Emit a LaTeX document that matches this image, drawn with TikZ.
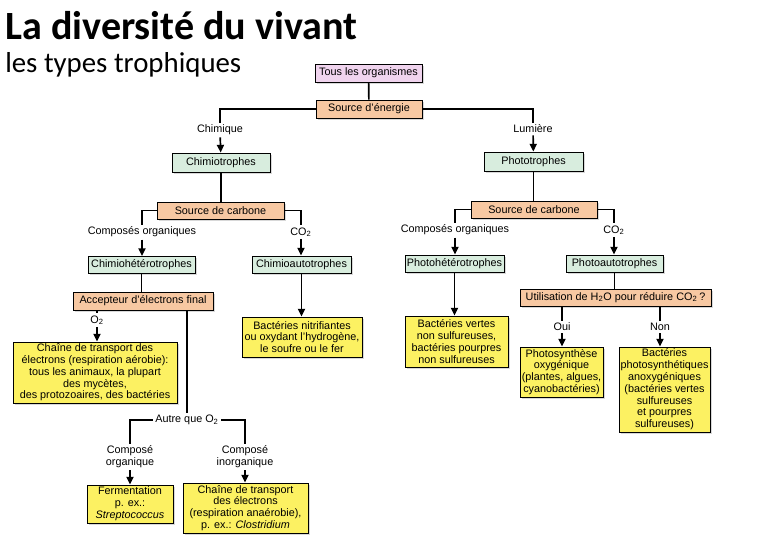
\documentclass[tikz,border=0pt]{standalone}
\usepackage{fontspec}
\setmainfont{Liberation Sans}
\newfontfamily\titlefont{Carlito}
\usetikzlibrary{arrows.meta, shadows}

\definecolor{orgpink}{RGB}{240,212,238}
\definecolor{srcpeach}{RGB}{247,200,162}
\definecolor{typgreen}{RGB}{216,237,222}
\definecolor{resyellow}{RGB}{252,241,98}

\begin{document}
\begin{tikzpicture}[x=0.025cm, y=-0.025cm, >={Triangle[width=5pt,length=5.5pt]}]
\tikzset{box/.style={draw, rectangle, line width=0.6pt, inner sep=1pt, align=center, font=\fontsize{7.7}{8.4}\selectfont, drop shadow={shadow xshift=1.3pt, shadow yshift=-1.3pt, fill=black!30}},
  orgbox/.style={box, fill=orgpink}, srcbox/.style={box, fill=srcpeach},
  typbox/.style={box, fill=typgreen}, resbox/.style={box, fill=resyellow},
  lbl/.style={inner sep=1.5pt, align=center, font=\fontsize{7.7}{8.4}\selectfont},
  ln/.style={line width=1.2pt}}
\useasboundingbox (0,0) rectangle (780,540);

% titre
\node[anchor=base west, inner sep=0, font=\titlefont\bfseries\fontsize{28.5}{30}\selectfont] (titre) at (5,39) {La diversité du vivant};
\node[anchor=base west, inner sep=0, font=\titlefont\fontsize{20.5}{22}\selectfont] (stitre) at (5,72) {les types trophiques};

% haut
\node[orgbox, minimum width=2.675cm, minimum height=0.45cm] (tous) at (368.5,73) {Tous les organismes};
\node[srcbox, minimum width=2.65cm, minimum height=0.45cm] (nrg) at (369,109) {Source d'énergie};
\node[lbl] (chq) at (220,130) {Chimique};
\node[lbl] (lum) at (533,129) {Lumière};
\node[typbox, minimum width=2.45cm, minimum height=0.475cm] (chimio) at (221,162.5) {Chimiotrophes};
\node[typbox, minimum width=2.475cm, minimum height=0.475cm] (photo) at (533.5,161.5) {Phototrophes};

% chimiotrophes
\node[srcbox, minimum width=3.175cm, minimum height=0.425cm] (scL) at (220.5,210.5) {Source de carbone};
\node[lbl] (coL) at (142,232) {Composés organiques};
\node[lbl] (co2L) at (301,232) {CO\textsubscript{2}};
\node[typbox, minimum width=2.675cm, minimum height=0.425cm] (chet) at (141.5,265) {Chimiohétérotrophes};
\node[typbox, minimum width=2.475cm, minimum height=0.425cm] (caut) at (301.5,264.5) {Chimioautotrophes};
\node[srcbox, minimum width=3.5cm, minimum height=0.45cm] (accept) at (143,301) {Accepteur d'électrons final};
\node[lbl] (o2) at (97,320) {O\textsubscript{2}};
\node[resbox, minimum width=4.1cm, minimum height=1.525cm] (aerob) at (95,372.5) {Chaîne de transport des\\électrons (respiration aérobie):\\tous les animaux, la plupart\\des mycètes,\\des protozoaires, des bactéries};
\node[lbl] (autre) at (187,420) {Autre que O\textsubscript{2}};
\node[lbl] (corg) at (130,457) {Composé\\organique};
\node[lbl] (cinorg) at (245,457) {Composé\\inorganique};
\node[resbox, minimum width=2.15cm, minimum height=0.95cm] (ferm) at (130,504) {Fermentation\\p. ex.:\\\textit{Streptococcus}};
\node[resbox, minimum width=3.125cm, minimum height=1.25cm] (anaer) at (245.5,508) {Chaîne de transport\\des électrons\\(respiration anaérobie),\\p. ex.: \textit{Clostridium}};
\node[resbox, minimum width=3cm, minimum height=1cm] (nitri) at (302,337) {Bactéries nitrifiantes\\ou oxydant l'hydrogène,\\le soufre ou le fer};

% phototrophes
\node[srcbox, minimum width=3.15cm, minimum height=0.425cm] (scR) at (534,209.5) {Source de carbone};
\node[lbl] (coR) at (455,230) {Composés organiques};
\node[lbl] (co2R) at (614,230) {CO\textsubscript{2}};
\node[typbox, minimum width=2.475cm, minimum height=0.425cm] (phet) at (454.5,263.5) {Photohétérotrophes};
\node[typbox, minimum width=2.425cm, minimum height=0.425cm] (paut) at (614.5,263.5) {Photoautotrophes};
\node[srcbox, minimum width=4.775cm, minimum height=0.425cm] (util) at (615.5,297.5) {Utilisation de H\textsubscript{2}O pour réduire CO\textsubscript{2}\,?};
\node[resbox, minimum width=2.575cm, minimum height=1.275cm] (bvert) at (456.5,341.5) {Bactéries vertes\\non sulfureuses,\\bactéries pourpres\\non sulfureuses};
\node[lbl] (oui) at (562,327) {Oui};
\node[lbl] (non) at (660,327) {Non};
\node[resbox, minimum width=2.075cm, minimum height=1.25cm] (oxy) at (561.5,372) {Photosynthèse\\oxygénique\\(plantes, algues,\\cyanobactéries)};
\node[resbox, minimum width=2.275cm, minimum height=2.125cm] (anoxy) at (664.5,389.5) {Bactéries\\photosynthétiques\\anoxygéniques\\(bactéries vertes\\sulfureuses\\et pourpres\\sulfureuses)};

% liaisons
\draw[ln] (tous) -- (nrg);
\draw[ln] (nrg.west) -| (chq); \draw[ln,->] (chq) -- (chimio);
\draw[ln] (nrg.east) -| (lum); \draw[ln,->] (lum) -- (photo);
\draw[ln] (chimio.south) -- (chimio.south |- scL.north);
\draw[ln] (scL.west) -| (coL); \draw[ln,->] (coL) -- (coL |- chet.north);
\draw[ln] (scL.east) -| (co2L); \draw[ln,->] (co2L) -- (co2L |- caut.north);
\draw[ln] (chet.south) -- (chet.south |- accept.north);
\draw[ln,->] (caut.south) -- (caut.south |- nitri.north);
\draw[ln] (accept.south -| o2) -- (o2); \draw[ln,->] (o2) -- (o2 |- aerob.north);
\draw[ln] (accept.south -| autre) -- (autre);
\draw[ln] (autre.west) -| (corg); \draw[ln,->] (corg) -- (corg |- ferm.north);
\draw[ln] (autre.east) -| (cinorg); \draw[ln,->] (cinorg) -- (cinorg |- anaer.north);
\draw[ln] (photo.south) -- (photo.south |- scR.north);
\draw[ln] (scR.west) -| (coR); \draw[ln,->] (coR) -- (coR |- phet.north);
\draw[ln] (scR.east) -| (co2R); \draw[ln,->] (co2R) -- (co2R |- paut.north);
\draw[ln,->] (phet.south) -- (phet.south |- bvert.north);
\draw[ln] (paut.south) -- (paut.south |- util.north);
\draw[ln] (util.south -| oui) -- (oui); \draw[ln,->] (oui) -- (oui |- oxy.north);
\draw[ln] (util.south -| non) -- (non); \draw[ln,->] (non) -- (non |- anoxy.north);
\end{tikzpicture}
\end{document}
